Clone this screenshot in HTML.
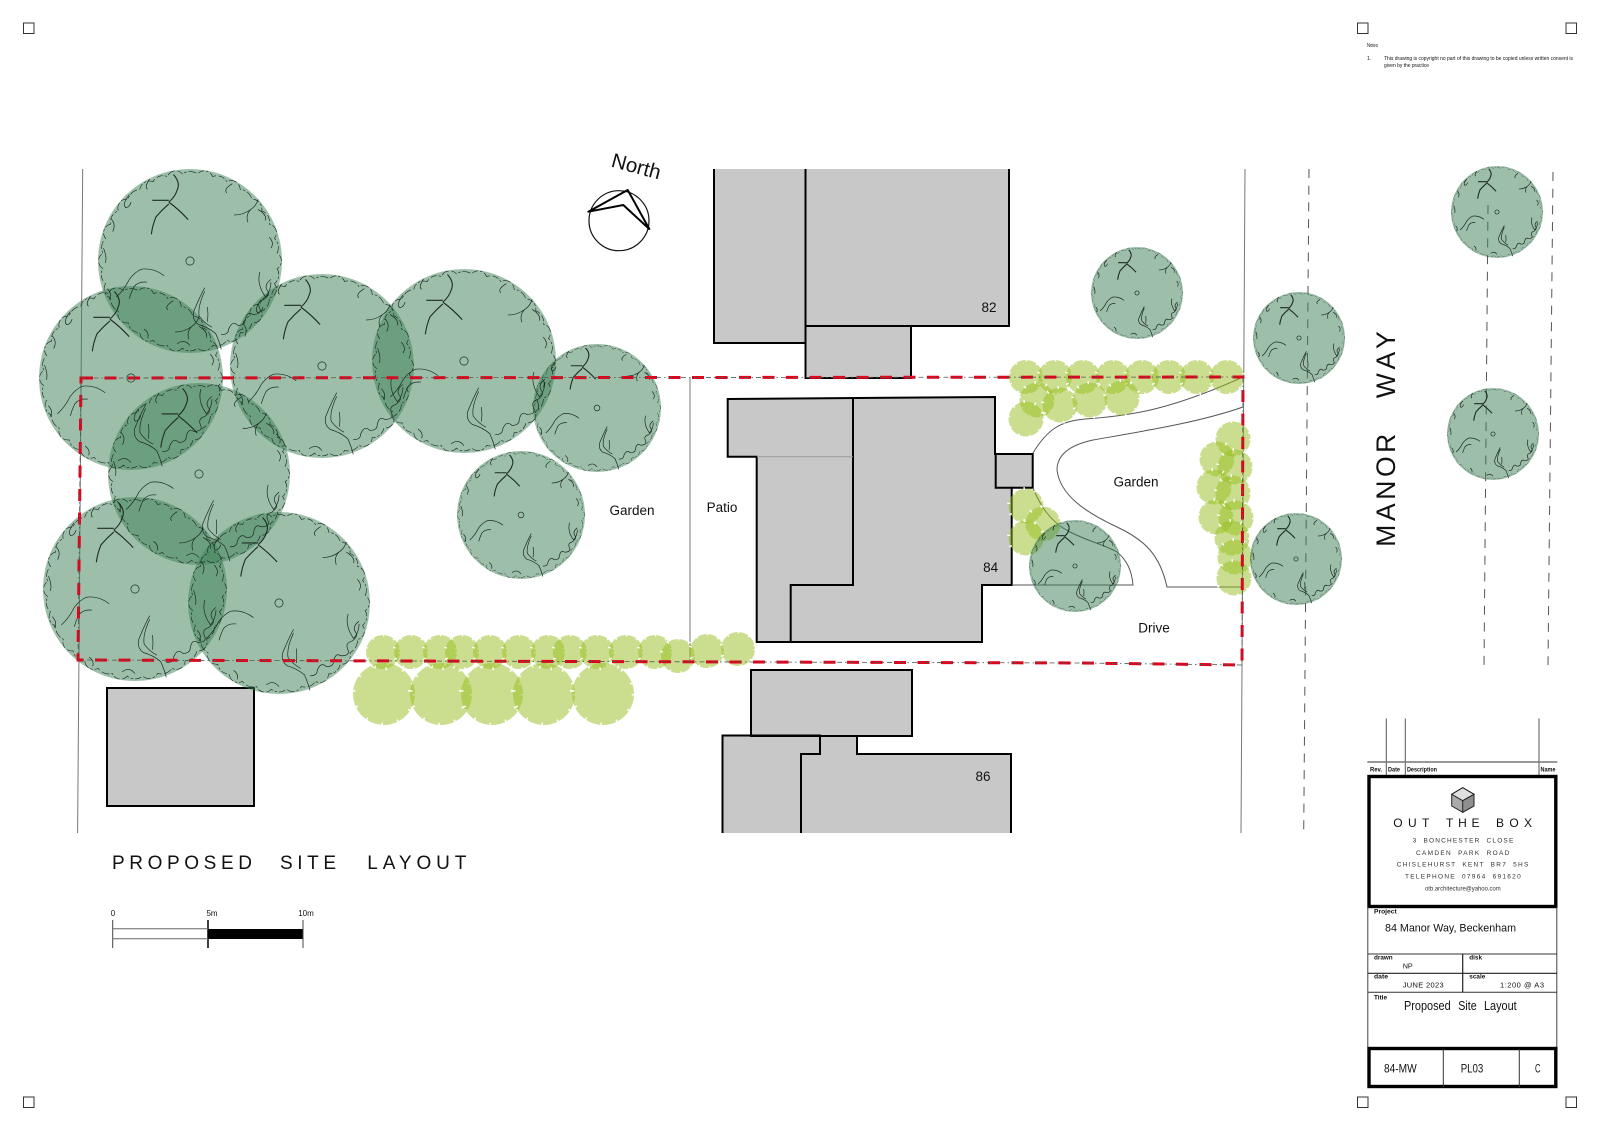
<!DOCTYPE html>
<html><head><meta charset="utf-8"><title>Proposed Site Layout</title>
<style>
html,body{margin:0;padding:0;background:#fff}
svg{display:block}
text{font-family:"Liberation Sans",Arial,sans-serif;fill:#111}
.t{fill:#3b7f55;fill-opacity:.5;stroke:none}
.o *{vector-effect:non-scaling-stroke}
.s circle{fill:#97bd1f;fill-opacity:.5;stroke:#fff;stroke-width:3;stroke-dasharray:1.4 10}
.s .sl circle{stroke-width:4.5;stroke-dasharray:1.6 15}
.b{fill:#c8c8c8;stroke:none}
.k{fill:none;stroke:#000;stroke-width:2;stroke-linejoin:miter}
.g{fill:none;stroke:#777;stroke-width:1}
.n{font-family:"Liberation Sans Narrow","Liberation Sans",sans-serif;font-weight:bold;font-size:6.5px}
.a{font-size:6.5px;fill:#333;word-spacing:3px}
.c{font-family:"Liberation Sans Narrow","Liberation Sans",sans-serif}
</style></head><body>
<svg xmlns="http://www.w3.org/2000/svg" width="1600" height="1131" viewBox="0 0 1600 1131">
<defs>
<path id="sc" d="M98 0A13 13 0 0 1 96.5 17A10 10 0 0 1 92.1 33.5A15 15 0 0 1 84.9 49A10 10 0 0 1 75.1 63A13 13 0 0 1 63 75.1A10 10 0 0 1 49 84.9A15 15 0 0 1 33.5 92.1A11 11 0 0 1 17 96.5A13 13 0 0 1 0 98A10 10 0 0 1 -17 96.5A15 15 0 0 1 -33.5 92.1A10 10 0 0 1 -49 84.9A13 13 0 0 1 -63 75.1A10 10 0 0 1 -75.1 63A15 15 0 0 1 -84.9 49A11 11 0 0 1 -92.1 33.5A13 13 0 0 1 -96.5 17A10 10 0 0 1 -98 0A15 15 0 0 1 -96.5 -17A10 10 0 0 1 -92.1 -33.5A13 13 0 0 1 -84.9 -49A10 10 0 0 1 -75.1 -63A15 15 0 0 1 -63 -75.1A11 11 0 0 1 -49 -84.9A13 13 0 0 1 -33.5 -92.1A10 10 0 0 1 -17 -96.5A15 15 0 0 1 0 -98A10 10 0 0 1 17 -96.5A13 13 0 0 1 33.5 -92.1A10 10 0 0 1 49 -84.9A15 15 0 0 1 63 -75.1A11 11 0 0 1 75.1 -63A13 13 0 0 1 84.9 -49A10 10 0 0 1 92.1 -33.5A15 15 0 0 1 96.5 -17A10 10 0 0 1 98 0Z"/>
<g id="tr" class="o" fill="none" stroke="#1d2b24" stroke-width=".7">
<circle cx="0" cy="0" r="4.5"/>
<use href="#sc" transform="rotate(5) scale(.97)" stroke-dasharray="7 2 3 2 9 3"/>
<path stroke-width="1.1" d="M-18-94Q-10-85-14-77Q-16-70-23-64M-23-66Q-32-66-41-66M-23-64Q-12-56-2-45M-23-62Q-30-56-37-48Q-41-38-42-29"/>
<path d="M48-50Q58-50 66-56Q72-60 74-67M63-42Q60-50 66-56"/>
<path d="M-28 16Q-40 7-53 9Q-60 12-66 20Q-72 32-80 39M-47 23Q-56 22-61 28Q-64 34-66 41"/>
<path d="M16 29Q10 40 4 55Q2 64 9 69Q20 72 28 79Q32 88 34 96M19 50Q20 58 19 66M16 33Q8 50 10 60Q16 68 24 72"/>
<path d="M-66-72Q-74-62-70-58Q-66-58-64-64M-44-89Q-50-80-46-78M-86-46Q-80-40-84-32M-94-14Q-90-4-92 2M-90 30Q-84 36-88 42"/>
<path d="M46-84Q36-78 40-74M76 12Q72 25 82 39Q88 32 88 23M74-56Q84-50 82-44M86-26Q92-20 88-14"/>
<path d="M88 20Q80 26 84 32Q88 36 80 42Q72 44 76 52Q78 58 68 58Q62 54 60 64Q60 70 52 70Q46 64 42 74Q42 80 34 80"/>
<path d="M-50 74Q-44 78-46 84M-14 90Q-6 84 0 92"/>
</g>
</defs>

<!-- corner marks -->
<g fill="none" stroke="#333" stroke-width="1">
<rect x="23.5" y="23" width="10.5" height="10.5"/><rect x="1357.5" y="23" width="10.5" height="10.5"/><rect x="1566" y="23" width="10.5" height="10.5"/>
<rect x="23.5" y="1097" width="10.5" height="10.5"/><rect x="1357.5" y="1097" width="10.5" height="10.5"/><rect x="1566" y="1097" width="10.5" height="10.5"/>
</g>

<!-- notes -->
<g>
<text x="1367" y="47" textLength="11" lengthAdjust="spacingAndGlyphs" style="font-size:5px">Notes</text>
<text x="1367" y="60" style="font-size:5px">1.</text>
<text x="1384" y="60" textLength="189" lengthAdjust="spacingAndGlyphs" style="font-size:5px">This drawing is copyright no part of this drawing to be copied unless written consent is</text>
<text x="1384" y="67" textLength="45" lengthAdjust="spacingAndGlyphs" style="font-size:5px">given by the practice</text>
</g>

<!-- buildings -->
<g class="b">
<rect x="714" y="169" width="92" height="174"/><rect x="805" y="169" width="204" height="157"/><rect x="805" y="326" width="106" height="52"/>
<path d="M727.7 399L995 397V454H1032.7V487.7H1011.7V585H982V642H756.7V456.7H727.7Z"/>
<rect x="751" y="670" width="161" height="66"/>
<path d="M722.5 833V735.5H820V736H857V754H1011V833Z"/>
<rect x="107" y="688" width="147" height="118"/>
</g>
<g class="k">
<path d="M714 169V343H806"/><path d="M805.5 169V378H911V326"/><path d="M805 326H1009V169"/>
<path d="M727.7 399L995 397V454H1032.7V487.7H1011.7V585H982V642H756.7V456.7H727.7Z"/>
<path d="M995.7 454V487.7H1011.7"/>
<path d="M853 399V585H790.7V642"/>
<rect x="751" y="670" width="161" height="66"/>
<path d="M722.5 833V735.5H820V754H801V833M857 736V754H1011V833M820 736H857"/>
<rect x="107" y="688" width="147" height="118"/>
</g>
<path d="M757 456.7H853" stroke="#999" stroke-width="1" fill="none"/>

<!-- site lines -->
<g class="g">
<path d="M82.7 169L77.6 833M1245 169L1241 833M690 378V661"/>
</g>
<g fill="none" stroke="#555" stroke-width="1">
<path d="M1309 169L1303.7 833" stroke-dasharray="9 7.7"/>
<path d="M1553 172L1548 665" stroke-dasharray="9 7.7"/>
<path d="M1488 205L1484 665" stroke-dasharray="9 7.7"/>
<path d="M1033 453C1048 428 1062 421 1085 419C1130 416 1170 410 1243 377"/>
<path d="M1243 407C1200 422 1150 430 1093 440C1070 445 1057 455 1057 470C1060 495 1085 512 1117 527C1145 540 1160 555 1167 587L1243 587"/>
<path d="M1033 488C1040 505 1050 522 1070 532C1090 542 1105 545 1117 552C1127 560 1132 572 1133 585L1012 585"/>
</g>

<!-- shrubs -->
<g class="s">
<g class="sl">
<circle cx="384" cy="694" r="31"/><circle cx="441" cy="694" r="31"/><circle cx="492" cy="694" r="31"/><circle cx="544" cy="694" r="31"/><circle cx="603" cy="694" r="31"/>
</g>
<circle cx="383" cy="652" r="17"/><circle cx="411" cy="652" r="17"/><circle cx="440" cy="652" r="17"/><circle cx="462" cy="652" r="17"/><circle cx="490" cy="652" r="17"/><circle cx="519" cy="652" r="17"/><circle cx="548" cy="652" r="17"/><circle cx="570" cy="652" r="17"/><circle cx="597" cy="652" r="17"/><circle cx="626" cy="652" r="17"/><circle cx="655" cy="652" r="17"/><circle cx="678" cy="656" r="17"/><circle cx="707" cy="651" r="17"/><circle cx="738" cy="649" r="17"/>
<circle cx="1026" cy="377" r="17"/><circle cx="1055" cy="377" r="17"/><circle cx="1083" cy="377" r="17"/><circle cx="1113" cy="377" r="17"/><circle cx="1142" cy="377" r="17"/><circle cx="1169" cy="377" r="17"/><circle cx="1197" cy="377" r="17"/><circle cx="1227" cy="377" r="17"/>
<circle cx="1037" cy="400" r="17.5"/><circle cx="1060" cy="405" r="17.5"/><circle cx="1090" cy="400" r="17.5"/><circle cx="1122" cy="398" r="17.5"/><circle cx="1026" cy="419" r="17.5"/>
<circle cx="1233" cy="439" r="17.5"/><circle cx="1217" cy="459" r="17.5"/><circle cx="1235" cy="467" r="17.5"/><circle cx="1214" cy="487" r="17.5"/><circle cx="1233" cy="493" r="17.5"/><circle cx="1216" cy="517" r="17.5"/><circle cx="1236" cy="518" r="17.5"/><circle cx="1232" cy="538" r="17.5"/><circle cx="1235" cy="557" r="17.5"/><circle cx="1234" cy="578" r="17.5"/>
<circle cx="1026" cy="506" r="17.5"/><circle cx="1043" cy="524" r="17.5"/><circle cx="1026" cy="538" r="17.5"/>
</g>

<!-- tree fills -->
<g class="t">
<circle cx="190" cy="261" r="92"/><circle cx="131" cy="378" r="92"/><circle cx="322" cy="366" r="92"/><circle cx="199" cy="474" r="91"/><circle cx="135" cy="589" r="92"/><circle cx="279" cy="603" r="91"/><circle cx="464" cy="361" r="92"/><circle cx="597" cy="408" r="64"/><circle cx="521" cy="515" r="64"/>
<circle cx="1137" cy="293" r="46"/><circle cx="1299" cy="338" r="46"/><circle cx="1075" cy="566" r="46"/><circle cx="1296" cy="559" r="46"/><circle cx="1497" cy="212" r="46"/><circle cx="1493" cy="434" r="46"/>
</g>
<!-- tree outlines -->
<use href="#tr" transform="translate(190 261) scale(.92)"/>
<use href="#tr" transform="translate(131 378) scale(.92)"/>
<use href="#tr" transform="translate(322 366) scale(.92)"/>
<use href="#tr" transform="translate(199 474) scale(.91)"/>
<use href="#tr" transform="translate(135 589) scale(.92)"/>
<use href="#tr" transform="translate(279 603) scale(.91)"/>
<use href="#tr" transform="translate(464 361) scale(.92)"/>
<use href="#tr" transform="translate(597 408) scale(.64)"/>
<use href="#tr" transform="translate(521 515) scale(.64)"/>
<use href="#tr" transform="translate(1137 293) scale(.46)"/>
<use href="#tr" transform="translate(1299 338) scale(.46)"/>
<use href="#tr" transform="translate(1075 566) scale(.46)"/>
<use href="#tr" transform="translate(1296 559) scale(.46)"/>
<use href="#tr" transform="translate(1497 212) scale(.46)"/>
<use href="#tr" transform="translate(1493 434) scale(.46)"/>

<!-- boundary -->
<path d="M81 378L1243 377L1242 665L1080 663L78 660Z" fill="none" stroke="#e3001b" stroke-width="3" stroke-dasharray="12 11.5"/>
<path d="M81 378L1243 377L1242 665L1080 663L78 660Z" fill="none" stroke="#4d5a50" stroke-width=".8" stroke-dasharray="5 3 1.5 3"/>

<!-- labels -->
<g>
<text x="632" y="515" text-anchor="middle" style="font-size:13.5px">Garden</text>
<text x="722" y="512" text-anchor="middle" style="font-size:13.5px">Patio</text>
<text x="1136" y="486.5" text-anchor="middle" style="font-size:13.5px">Garden</text>
<text x="1154" y="632.5" text-anchor="middle" style="font-size:13.5px">Drive</text>
<text x="989" y="312" text-anchor="middle" style="font-size:13.5px">82</text>
<text x="990.7" y="572" text-anchor="middle" style="font-size:13.5px">84</text>
<text x="983" y="781" text-anchor="middle" style="font-size:13.5px">86</text>
</g>
<text transform="translate(1395 546.7) rotate(-90)" textLength="113" style="font-size:26.5px">MANOR</text>
<text transform="translate(1395 398.3) rotate(-90)" textLength="67" style="font-size:26.5px">WAY</text>

<!-- north -->
<circle cx="619" cy="220.7" r="30" fill="none" stroke="#111" stroke-width="1.2"/>
<path d="M588.3 211.7L627.7 190L649.3 229L623.3 205Z" fill="none" stroke="#000" stroke-width="2" stroke-linejoin="round"/>
<text transform="translate(634.5 173) rotate(15)" text-anchor="middle" style="font-size:20.5px">North</text>

<!-- heading -->
<text x="112" y="869" textLength="140" style="font-size:19px">PROPOSED</text>
<text x="280" y="869" textLength="56" style="font-size:19px">SITE</text>
<text x="367.3" y="869" textLength="99" style="font-size:19px">LAYOUT</text>

<!-- scale bar -->
<rect x="208" y="929" width="95" height="10" fill="#000"/>
<path d="M112.7 920V948M303 920V948" stroke="#444" stroke-width="1" fill="none"/>
<path d="M208 920V948" stroke="#000" stroke-width="1.5" fill="none"/>
<path d="M112.7 928.7H208M112.7 938.7H208" stroke="#666" stroke-width="1" fill="none"/>
<text x="113" y="916" text-anchor="middle" style="font-size:8px">0</text>
<text x="212" y="916" text-anchor="middle" style="font-size:8px">5m</text>
<text x="306" y="916" text-anchor="middle" style="font-size:8px">10m</text>

<!-- title block -->
<path d="M1386.3 718.5V775M1405.3 718.5V775M1539 718.5V775" stroke="#555" stroke-width="1" fill="none"/>
<path d="M1367.3 762H1557.3" stroke="#777" stroke-width="1.4" fill="none"/>
<text class="n" x="1370" y="771.7" textLength="12" lengthAdjust="spacingAndGlyphs">Rev.</text>
<text class="n" x="1388" y="771.7" textLength="12" lengthAdjust="spacingAndGlyphs">Date</text>
<text class="n" x="1407" y="771.7" textLength="30" lengthAdjust="spacingAndGlyphs">Description</text>
<text class="n" x="1540.5" y="771.7" textLength="15" lengthAdjust="spacingAndGlyphs">Name</text>
<rect x="1369" y="776.5" width="186.8" height="130" fill="#fff" stroke="#000" stroke-width="3.4"/>
<path d="M1462.7 787.7L1474 794.3V806L1462.7 812.3L1451.7 806V794.3Z" fill="#aaa" stroke="#222" stroke-width="1"/>
<path d="M1462.7 787.7L1474 794.3L1462.7 800.7L1451.7 794.3Z" fill="#e0e0e0" stroke="#222" stroke-width="1"/>
<path d="M1462.7 800.7L1474 794.3V806L1462.7 812.3Z" fill="#8e8e8e" stroke="#222" stroke-width="1"/>
<text x="1393.3" y="827" textLength="36" style="font-size:12px">OUT</text>
<text x="1446" y="827" textLength="33.5" style="font-size:12px">THE</text>
<text x="1496" y="827" textLength="36" style="font-size:12px">BOX</text>
<text class="a" x="1412.7" y="842.7" textLength="100.6">3 BONCHESTER CLOSE</text>
<text class="a" x="1416" y="855" textLength="93.3">CAMDEN PARK ROAD</text>
<text class="a" x="1396.7" y="866.3" textLength="131.6">CHISLEHURST KENT BR7 5HS</text>
<text class="a" x="1405" y="878.3" textLength="115.7">TELEPHONE 07964 691620</text>
<text class="a" x="1425" y="890.3" textLength="75.7" lengthAdjust="spacingAndGlyphs">otb.architecture@yahoo.com</text>

<path d="M1367.8 907V1047M1556.8 907V1047" stroke="#444" stroke-width="1" fill="none"/>
<path d="M1367.5 954H1557M1367.5 992.3H1557" stroke="#333" stroke-width="1" fill="none"/>
<path d="M1367.5 973.3H1557M1462.7 954V992.3" stroke="#222" stroke-width="1.2" fill="none"/>
<text class="n" x="1374" y="913.3" textLength="22.7" lengthAdjust="spacingAndGlyphs">Project</text>
<text x="1385" y="931.3" textLength="131" style="font-size:11px" lengthAdjust="spacingAndGlyphs">84 Manor Way, Beckenham</text>
<text class="n" x="1374" y="959.3" textLength="18.7" lengthAdjust="spacingAndGlyphs">drawn</text>
<text x="1402.7" y="968.3" textLength="10" lengthAdjust="spacingAndGlyphs" style="font-size:7.5px">NP</text>
<text class="n" x="1469.3" y="959.3" textLength="12.7" lengthAdjust="spacingAndGlyphs">disk</text>
<text class="n" x="1374" y="978.3" textLength="14" lengthAdjust="spacingAndGlyphs">date</text>
<text x="1402.7" y="987.7" textLength="41" style="font-size:7.5px">JUNE 2023</text>
<text class="n" x="1469.3" y="978.3" textLength="16" lengthAdjust="spacingAndGlyphs">scale</text>
<text x="1500" y="987.7" textLength="44" style="font-size:7.5px">1:200 @ A3</text>
<text class="n" x="1374" y="999.3" textLength="13" lengthAdjust="spacingAndGlyphs">Title</text>
<text class="c" x="1404" y="1010" textLength="46.7" lengthAdjust="spacingAndGlyphs" style="font-size:13px">Proposed</text>
<text class="c" x="1458.3" y="1010" textLength="18.4" lengthAdjust="spacingAndGlyphs" style="font-size:13px">Site</text>
<text class="c" x="1484" y="1010" textLength="32.7" lengthAdjust="spacingAndGlyphs" style="font-size:13px">Layout</text>

<rect x="1369" y="1048.5" width="186.8" height="38" fill="#fff" stroke="#000" stroke-width="3.4"/>
<path d="M1443.3 1049V1087M1519.3 1049V1087" stroke="#333" stroke-width="1" fill="none"/>
<text class="c" x="1384" y="1072.7" textLength="32.7" lengthAdjust="spacingAndGlyphs" style="font-size:12px">84-MW</text>
<text class="c" x="1460.7" y="1072.7" textLength="22.6" lengthAdjust="spacingAndGlyphs" style="font-size:12px">PL03</text>
<text class="c" x="1535" y="1072.7" textLength="5.5" lengthAdjust="spacingAndGlyphs" style="font-size:12px">C</text>
</svg>
</body></html>
